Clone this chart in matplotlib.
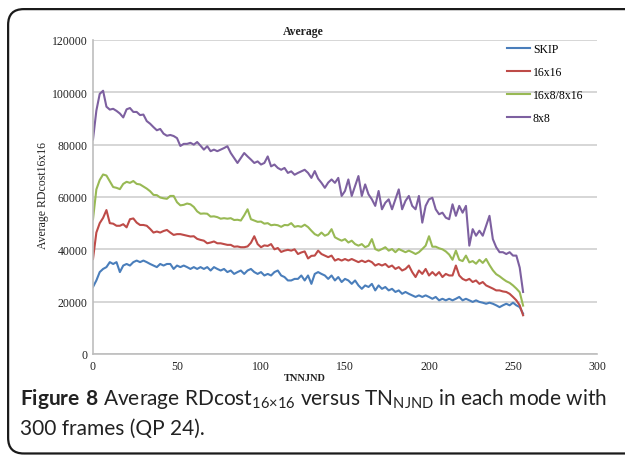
import matplotlib
matplotlib.use('Agg')
import matplotlib.pyplot as plt
from matplotlib.patches import FancyBboxPatch
import numpy as np

# TN_NJND sample positions (every 2 frames)
tn = np.arange(0, 257, 2)

skip = [25600, 28100, 31300, 32500, 33200, 35100, 34400, 35100, 31300, 33800,
        34400, 33800, 35100, 35700, 35100, 35700, 35100, 34400, 33800, 33200,
        34400, 33800, 34400, 34400, 32500, 33800, 33200, 33800, 33200, 32500,
        33200, 32500, 33200, 32500, 33200, 31900, 33200, 32500, 31900, 32500,
        31300, 31900, 30600, 31300, 31900, 30600, 31900, 32500, 31300, 30600,
        31300, 30000, 30600, 30000, 31300, 31900, 30000, 29400, 28100, 28100,
        28700, 28700, 30000, 28100, 30000, 26800,
        30600, 31300, 30600, 30000, 28700, 30000, 28100, 29400, 27500, 28700,
        28100, 26800, 28100, 26200, 24900, 26200, 25600, 26800, 24300, 26200,
        24900, 25600, 24300, 24900, 23700, 24300, 23000, 23700, 23000, 22400,
        21800, 22400, 21800, 22400, 21800, 21100, 21800, 20500, 21100, 20500,
        21100, 20500, 21100, 21800, 20500, 21100, 20500, 19900, 20500, 19900,
        19600, 19200, 19600, 19200, 18600, 17900, 18600, 19200, 18600, 19600,
        18600, 17900, 15400]

mb16x16 = [36300, 46400, 50000, 52000, 55000, 50000, 49800, 49000, 49000, 49600,
           48400, 51500, 51800, 50200, 49300, 49300, 49000, 47800, 46400, 46800,
           46400, 47000, 47400, 46400, 45500, 45800, 45800, 45500, 45200, 44900,
           45000, 44000, 43600, 43300, 42300, 42600, 43000, 42300, 42300, 42000,
           41700, 41700, 41000, 41100, 40800, 40800, 41100, 42500, 45000, 42000,
           40800, 41500, 41300, 42000, 40000, 40500, 39000, 39500, 39800, 39500,
           40000, 38200, 38800, 39200, 36500, 37500,
           37600, 39500, 38200, 37600, 37000, 37600, 35700, 36300, 35700, 36300,
           35700, 36300, 35700, 35100, 35700, 35100, 35700, 35100, 33800, 34400,
           33800, 34400, 33200, 33800, 32500, 33200, 31900, 32500, 33800, 31300,
           29400, 31900, 30600, 32500, 30000, 31300, 30000, 31300, 29400, 30600,
           30000, 30000, 33800, 30000, 28700, 28100, 28700, 27500, 28100, 26800,
           27500, 26200, 25600, 25000, 24300, 24300, 23900, 23700, 23000, 21800,
           20500, 18600, 14800]

mb16x8 = [51500, 62900, 66500, 68600, 68200, 66000, 63800, 63500, 63000, 65000,
          65800, 65400, 66100, 65000, 64800, 64000, 63200, 62200, 60800, 60700,
          59800, 59500, 59300, 60400, 60400, 58000, 56800, 57000, 57500, 57200,
          56200, 54500, 53600, 53700, 53600, 52500, 52600, 52300, 51700, 51900,
          51700, 51900, 51200, 51300, 51000, 53000, 55300, 51500, 51000, 50500,
          50600, 49800, 50000, 49200, 49400, 49200, 48600, 49300, 49200, 50000,
          48600, 48900, 48600, 49400, 48500, 47100,
          45800, 45200, 46400, 45200, 45800, 47700, 44600, 43900, 43300, 43900,
          42600, 43300, 42000, 41400, 42000, 40800, 41400, 43900, 40100, 39500,
          40100, 40800, 39500, 40100, 38900, 40100, 39500, 38900, 39500, 38900,
          38200, 38900, 40100, 41400, 45000, 41000, 41000, 40400, 40000, 39200,
          38000, 36000, 39500, 36000, 35500, 37600, 35000, 35500, 34500, 36000,
          34800, 36300, 34000, 32000, 30500, 29700, 28700, 27800, 27200, 26200,
          25000, 23600, 18500]

mb8x8 = [82000, 93000, 99400, 100600, 94500, 93400, 93700, 92900, 91900, 90400,
         93500, 94000, 92500, 92500, 91300, 91500, 89000, 88000, 86700, 85500,
         86000, 84200, 83400, 83700, 83300, 82500, 79500, 80300, 80300, 80700,
         80000, 81000, 79600,
         78100, 79400, 77500, 78100, 77500, 78100, 78700, 79400, 76800, 74900,
         73000, 74900, 76800, 75500, 74300, 73000, 73600, 72400, 73000, 75500,
         71700, 72400, 71100, 70400, 71100, 69200, 69800, 68500, 69200, 69800,
         70400, 69200, 67300,
         69900, 67000, 65400, 63500, 65500, 66700, 65400, 67300, 60400, 62300,
         66700, 60400, 64200, 68000, 60400, 64800, 61000, 59100, 56600, 62300,
         55300, 57800, 59100, 55300, 59100, 62900, 55300, 58500, 60400, 56600,
         55300, 60400, 50200, 56600, 59100, 59700, 55300, 53400, 54000, 52100,
         51500, 57200, 52800, 56600, 54000, 56600, 41400, 47700, 45200, 47100,
         45200, 49000, 52800, 43900, 40800, 38900, 38900, 38200, 38900, 37600,
         37600, 33000, 23700]

labels = ["SKIP", "16x16", "16x8/8x16", "8x8"]
colors = ["#4a7ebb", "#be4b48", "#98b954", "#7d60a0"]
series = [skip, mb16x16, mb16x8, mb8x8]

plt.rcParams['mathtext.fontset'] = 'custom'
plt.rcParams['mathtext.rm'] = 'Lato'
plt.rcParams['mathtext.bf'] = 'Lato:bold'

fig = plt.figure(figsize=(6.25, 4.6), dpi=100)
ax = fig.add_axes([0.1488, 0.2283, 0.8064, 0.6826])

for vals, lab, col in zip(series, labels, colors):
    ax.plot(tn, vals, color=col, lw=1.5, label=lab)

ax.set_xlim(0, 300)
ax.set_ylim(0, 120000)
ax.set_xticks(range(0, 301, 50))
ax.set_yticks(range(0, 120001, 20000))
ax.grid(axis='y', color='#cfcfcf', lw=1.2)
ax.set_axisbelow(True)
for s in ['top', 'right']:
    ax.spines[s].set_visible(False)
for s in ['left', 'bottom']:
    ax.spines[s].set_color('#bdbdbd')
    ax.spines[s].set_linewidth(1.2)
ax.tick_params(length=0, pad=4, labelsize=8.5, colors='#222222')
for t in ax.get_xticklabels() + ax.get_yticklabels():
    t.set_fontfamily('Liberation Serif')

leg = ax.legend(loc='upper left', bbox_to_anchor=(0.811, 0.905),
                bbox_transform=fig.transFigure, frameon=False,
                prop={'family': 'Liberation Serif', 'size': 8.5},
                handlelength=2.0, handletextpad=0.2, labelspacing=0.95,
                borderpad=0, borderaxespad=0)

fig.text(0.485, 0.930, "Average", ha='center', va='center',
         family='Liberation Serif', fontsize=8.5, weight='bold', color='#222222')
fig.text(0.488, 0.178, "TNNJND", ha='center', va='center',
         family='Liberation Serif', fontsize=7.5, weight='bold', color='#222222')
fig.text(0.069, 0.575, "Average RDcost16x16", ha='center', va='center',
         rotation=90, family='Liberation Serif', fontsize=8.5, color='#222222')

# frame round the figure panel
frame = FancyBboxPatch((0.013, 0.012), 1.2, 0.966, transform=fig.transFigure,
                       boxstyle="round,pad=0,rounding_size=0.025",
                       fill=False, ec='#1a1a1a', lw=1.6, mutation_aspect=1.36)
fig.patches.append(frame)

fig.text(0.032, 0.132,
         r"$\mathbf{Figure\ 8}$ Average RDcost$_{\mathrm{16×16}}$ versus TN$_{\mathrm{NJND}}$ in each mode with",
         ha='left', va='center', family='Lato', fontsize=15, color='#222222')
fig.text(0.032, 0.067, "300 frames (QP 24).", ha='left', va='center',
         family='Lato', fontsize=15, color='#222222')

plt.savefig('out.png', dpi=100)
plt.close()
